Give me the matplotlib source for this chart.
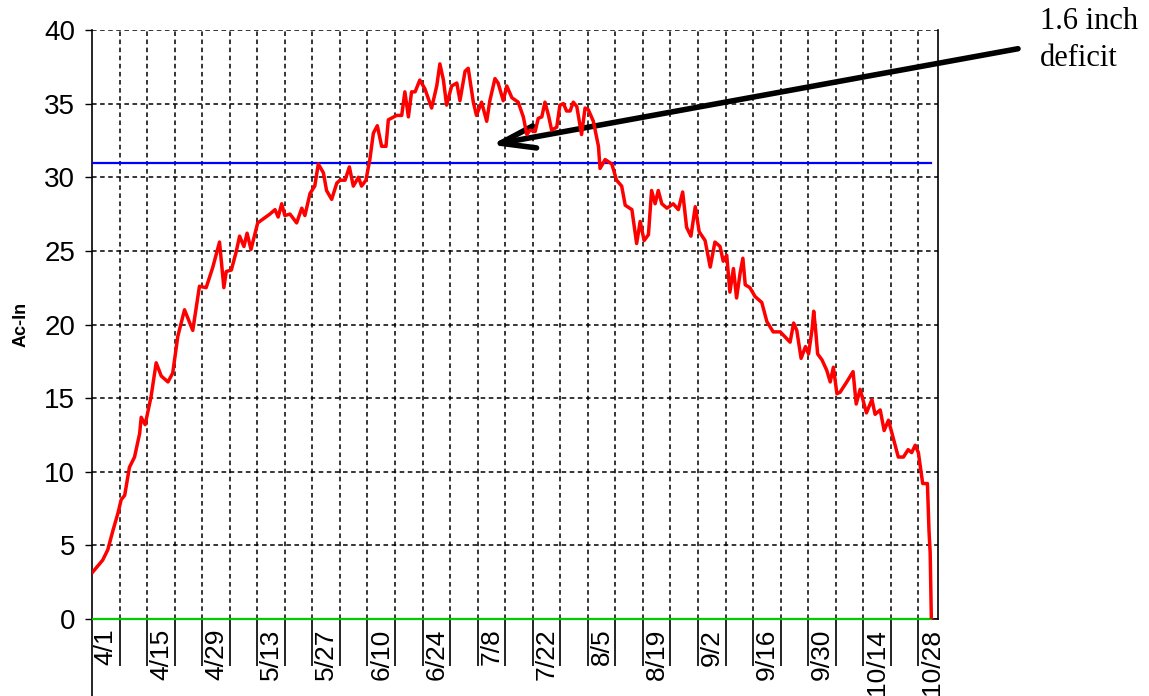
import numpy as np
import matplotlib.pyplot as plt
from matplotlib.lines import Line2D

# days since 4/1 and accumulated deficit (Ac-In)
days = [-3.3, -0.8, 0.5, 1.8, 3.1, 3.9, 4.8, 6.0, 7.3, 8.6, 9.0, 10.0, 11.5, 12.8, 14.1,
        15.8, 17.0, 18.3, 20.0, 22.1, 23.8, 25.5, 27.2, 28.9, 30.0, 30.6, 31.9, 33.1, 34.0,
        35.1, 35.9, 36.9, 38.6, 41.7, 43.0, 43.8, 44.7, 45.5, 46.8, 48.5, 49.8, 50.6, 51.9,
        53.1, 54.0, 55.3, 56.1, 57.4, 58.7, 59.5, 60.8, 61.9, 62.9, 64.2, 65.0, 66.1, 67.1,
        68.0, 69.0, 70.1, 71.2, 71.8, 73.9, 75.2, 76.0, 76.9, 77.7, 78.6, 79.8, 81.1, 82.8,
        84.1, 84.9, 85.8, 86.6, 87.9, 89.2, 90.0, 91.3, 92.1, 93.4, 94.2, 95.5, 96.8, 97.6,
        98.9, 99.7, 101.0, 101.9, 103.2, 104.8, 106.1, 107.0, 107.8, 109.1, 109.9, 110.8,
        111.6, 112.5, 113.3, 114.6, 115.4, 116.3, 117.1, 118.0, 118.8, 119.7, 120.9, 121.8,
        122.6, 123.9, 125.2, 125.6, 126.9, 128.6, 129.8, 131.1, 132.0, 133.7, 134.9, 135.8,
        136.8, 137.9, 138.7, 139.6, 140.4, 141.3, 142.6, 144.2, 145.5, 146.6, 147.6, 148.7,
        149.8, 150.8, 152.3, 153.6, 154.8, 156.1, 156.9, 157.8, 158.6, 159.5, 160.3, 161.2,
        161.9, 162.5, 163.7, 165.0, 166.7, 168.0, 169.6, 171.4, 173.9, 174.8, 175.6, 176.7,
        177.8, 178.6, 179.5, 179.9, 180.4, 180.9, 182.0, 183.2, 184.1, 184.9, 185.8, 186.6,
        188.3, 189.9, 190.7, 191.7, 193.3, 194.7, 195.5, 196.8, 197.8, 198.9, 200.2, 201.4,
        202.7, 203.9, 204.8, 205.7, 206.5, 207.6, 208.8, 209.2, 209.5, 209.8]
acin = [3.2, 4.0, 4.7, 6.0, 7.2, 8.1, 8.4, 10.3, 11.0, 12.6, 13.7, 13.2, 15.1, 17.4, 16.5,
        16.1, 16.7, 19.2, 21.0, 19.6, 22.6, 22.5, 23.9, 25.6, 22.5, 23.6, 23.7, 24.9, 26.0,
        25.3, 26.2, 25.1, 26.9, 27.5, 27.8, 27.3, 28.2, 27.4, 27.5, 26.9, 27.9, 27.4, 28.9,
        29.4, 30.9, 30.3, 29.1, 28.5, 29.6, 29.8, 29.8, 30.7, 29.4, 30.0, 29.4, 29.8, 31.2,
        33.0, 33.5, 32.1, 32.1, 33.9, 34.2, 34.2, 35.8, 34.1, 35.8, 35.8, 36.6, 36.0, 34.7,
        36.2, 37.7, 36.6, 34.9, 36.2, 36.4, 35.2, 37.2, 37.4, 35.1, 34.2, 35.1, 33.8, 35.2,
        36.7, 36.4, 35.2, 36.2, 35.4, 35.1, 34.1, 32.9, 33.2, 33.1, 34.0, 34.1,
        35.1, 34.2, 33.2, 33.4, 34.9, 35.0, 34.5, 34.5, 35.1, 34.8, 32.9, 34.7,
        34.6, 33.8, 32.1, 30.6, 31.2, 30.9, 29.8, 29.4, 28.1, 27.8, 25.5, 27.0,
        25.7, 26.1, 29.1, 28.2, 29.1, 28.2, 27.9, 28.2, 27.8, 29.0, 26.6, 26.0,
        28.0, 26.3, 25.7, 23.9, 25.6, 25.3, 24.3, 24.7, 22.2, 23.8, 21.8, 23.5,
        24.5, 22.7, 22.5, 21.9, 21.5, 20.2, 19.5, 19.5, 18.8, 20.1, 19.6, 17.7,
        18.5, 18.0, 19.7, 20.9, 19.6, 18.0, 17.6, 16.9, 16.1, 17.1, 15.3, 15.4,
        16.1, 16.8, 14.6, 15.6, 14.0, 14.9, 13.9, 14.2, 12.8, 13.5, 12.2, 11.0,
        11.0, 11.5, 11.3, 11.8, 11.3, 9.2, 9.2, 6.0, 4.5, 0.0]

threshold = 31.0
tick_days = [0, 14, 28, 42, 56, 70, 84, 98, 112, 126, 140, 154, 168, 182, 196, 210]
tick_labels = ["4/1", "4/15", "4/29", "5/13", "5/27", "6/10", "6/24", "7/8", "7/22",
               "8/5", "8/19", "9/2", "9/16", "9/30", "10/14", "10/28"]
arrow_tip = (98, 32.2)
note = "1.6 inch\ndeficit"

plt.rcParams['font.family'] = ['Liberation Sans', 'DejaVu Sans']

fig = plt.figure(figsize=(11.49, 6.96), dpi=100)
ax = fig.add_axes([0.0801, 0.1106, 0.7363, 0.8463])

ax.set_xlim(-3.5, 211.5)
ax.set_ylim(0, 40)

# grid
ax.set_yticks(np.arange(0, 41, 5))
ax.set_xticks(tick_days)
ax.set_xticklabels(tick_labels, rotation=90, fontsize=19, va='top', ha='center')
ax.set_xticks(np.arange(3.5, 211, 7), minor=True)
ax.grid(True, which='minor', axis='x', color='black', linestyle=(0, (3, 2.3)), lw=1.1)
ax.grid(True, which='major', axis='y', color='black', linestyle=(0, (3, 2.3)), lw=1.1)
ax.tick_params(axis='x', which='major', length=0, pad=7)
ax.tick_params(axis='x', which='minor', length=34, width=1.2, direction='out', color='black')
ax.tick_params(axis='y', labelsize=20, length=5, width=1.0, pad=7)

ax.spines['top'].set_visible(False)
for s in ['left', 'right', 'bottom']:
    ax.spines[s].set_linewidth(1.2)

ax.plot([days[0], days[-1]], [threshold, threshold], color='#0000FF', lw=1.6, zorder=3)
ax.plot([days[0], days[-1]], [0, 0], color='#00CC00', lw=1.6, zorder=3, clip_on=False)
ax.plot(days, acin, color='#FF0000', lw=2.5, zorder=4)

ax.set_ylabel("Ac-In", fontsize=13, fontweight='bold')
ax.yaxis.set_label_coords(-0.074, 0.5)

# left axis line runs on below the plot
ax.add_line(Line2D([0, 0], [0, -0.14], transform=ax.transAxes, color='black',
                   lw=1.2, clip_on=False))

ax.annotate("", xy=arrow_tip, xycoords='data',
            xytext=(0.886, 0.930), textcoords='figure fraction',
            arrowprops=dict(arrowstyle='->,head_length=1.25,head_width=0.4',
                            mutation_scale=20, lw=4, color='black', shrinkA=0, shrinkB=0),
            annotation_clip=False)
fig.text(0.905, 0.99, note, fontsize=22, family='Liberation Serif', va='top', ha='left',
         linespacing=1.35)

fig.savefig("out.png", dpi=100)
